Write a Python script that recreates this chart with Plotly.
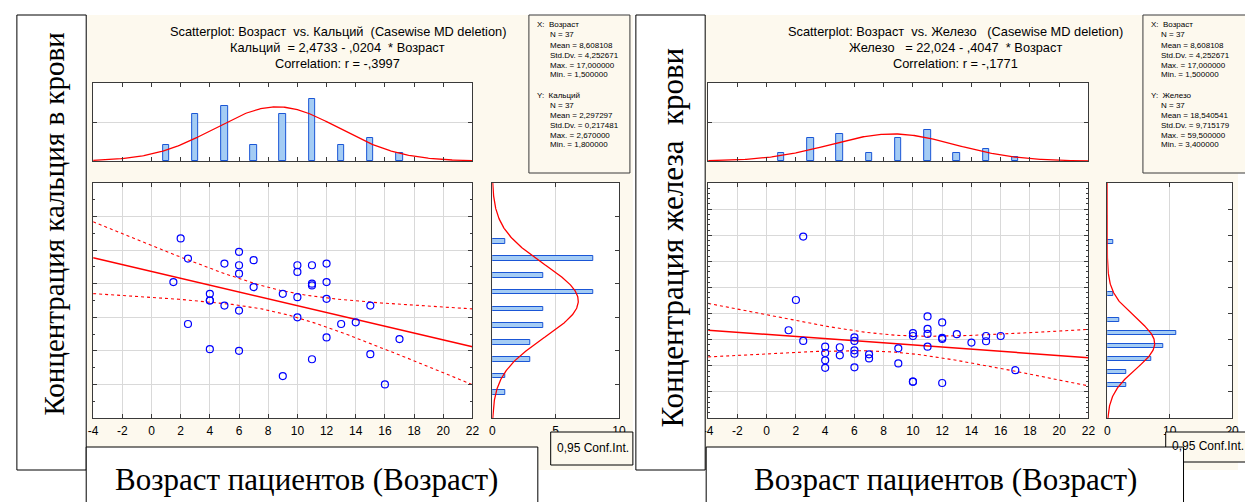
import numpy as np
import plotly.graph_objects as go

W, H = 1245, 502

# ------------------------------------------------------------------ data
# Panel 1: Возраст vs Кальций
age_ca = [2, 2.5, 1.5, 2.5, 4, 4, 4, 4, 5, 5, 6, 6, 6, 6, 6, 7, 7, 9, 9,
          10, 10, 10, 10, 11, 11, 11, 11, 12, 12, 12, 12, 13, 14, 15, 15, 16, 17]
calcium = [2.67, 2.55, 2.41, 2.16, 2.34, 2.30, 2.30, 2.01, 2.52, 2.27, 2.59, 2.51,
           2.46, 2.24, 2.00, 2.54, 2.38, 2.34, 1.85, 2.51, 2.47, 2.32, 2.20, 2.51,
           2.40, 2.39, 1.95, 2.52, 2.41, 2.31, 2.08, 2.16, 2.17, 2.27, 1.98, 1.80, 2.07]

# Panel 2: Возраст vs Железо
age_fe = [2.5, 2, 1.5, 2.5, 4, 4, 4, 4, 5, 5, 6, 6, 6, 6, 6, 7, 7, 9, 9,
          10, 10, 10, 10, 11, 11, 11, 11, 12, 12, 12, 12, 13, 14, 15, 15, 16, 17]
iron = [59.5, 35.2, 23.6, 19.5, 17.3, 14.9, 12.1, 9.2, 17.1, 14.0, 20.9, 19.5,
        15.9, 14.6, 9.4, 14.4, 12.8, 16.7, 10.9, 22.5, 21.4, 3.9, 3.9, 28.9,
        24.1, 22.2, 17.3, 26.6, 20.7, 20.3, 3.4, 22.1, 18.9, 21.4, 19.4, 21.4, 8.3]

# histograms
age_bin_centers = [1, 3, 5, 7, 9, 11, 13, 15, 17]
age_bin_counts = [2, 6, 7, 2, 6, 8, 2, 3, 1]
ca_bin_centers = [2.65, 2.55, 2.45, 2.35, 2.25, 2.15, 2.05, 1.95, 1.85, 1.75]
ca_bin_counts = [1, 8, 4, 8, 4, 4, 3, 3, 1, 1]
fe_bin_centers = [57.5, 37.5, 27.5, 22.5, 17.5, 12.5, 7.5, 2.5]
fe_bin_counts = [1, 1, 2, 11, 9, 7, 3, 3]

# descriptive statistics and regressions
age_n, age_mean, age_sd = 37, 8.608108, 4.252671
ca_mean, ca_sd = 2.297297, 0.217481
fe_mean, fe_sd = 18.540541, 9.715179
ca_b0, ca_b1, ca_r = 2.4733, -0.0204, -0.3997
fe_b0, fe_b1, fe_r = 22.024, -0.4047, -0.1771
t_crit = 2.0301  # t(0.975, 35)

x_tick_vals = [-4, -2, 0, 2, 4, 6, 8, 10, 12, 14, 16, 18, 20, 22]
x_tick_labels = ["-4", "-2", "0", "2", "4", "6", "8", "10", "12", "14", "16", "18", "20", "22"]

stats_ca = ["X:  Возраст", "N = 37", "Mean = 8,608108", "Std.Dv. = 4,252671",
            "Max. = 17,000000", "Min. = 1,500000",
            "Y:  Кальций", "N = 37", "Mean = 2,297297", "Std.Dv. = 0,217481",
            "Max. = 2,670000", "Min. = 1,800000"]
stats_fe = ["X:  Возраст", "N = 37", "Mean = 8,608108", "Std.Dv. = 4,252671",
            "Max. = 17,000000", "Min. = 1,500000",
            "Y:  Железо", "N = 37", "Mean = 18,540541", "Std.Dv. = 9,715179",
            "Max. = 59,500000", "Min. = 3,400000"]

titles_ca = ["Scatterplot: Возраст\u00a0 vs. Кальций\u00a0 (Casewise MD deletion)",
             "Кальций\u00a0 = 2,4733 - ,0204\u00a0 * Возраст",
             "Correlation: r = -,3997"]
titles_fe = ["Scatterplot: Возраст\u00a0 vs. Железо\u00a0\u00a0 (Casewise MD deletion)",
             "Железо\u00a0\u00a0 = 22,024 - ,4047\u00a0 * Возраст",
             "Correlation: r = -,1771"]

ylabel_ca = "Концентрация кальция в крови"
ylabel_fe = "Концентрация железа\u00a0 крови"
xlabel = "Возраст пациентов (Возраст)"
conf_label = "0,95 Conf.Int."

# ------------------------------------------------------------------ style
CREAM = "#FDF9EE"
FRAME = "#3A3A3A"
GRID = "#D9D9D9"
BLUE = "#0000FF"
RED = "#FF0000"
BAR_FILL = "#A4CCF4"
BAR_LINE = "#1A56D6"
SANS = "Liberation Sans, Arial, sans-serif"
SERIF = "Liberation Serif, Times New Roman, serif"


def px(x):
    return x / W


def py(y):
    return 1 - y / H


def normal_counts(t, n, bw, m, s):
    return n * bw / (s * np.sqrt(2 * np.pi)) * np.exp(-0.5 * ((t - m) / s) ** 2)


def conf_band(x, b0, b1, r, sy):
    s = sy * np.sqrt((1 - r ** 2) * (age_n - 1) / (age_n - 2))
    sxx = (age_n - 1) * age_sd ** 2
    se = s * np.sqrt(1 / age_n + (x - age_mean) ** 2 / sxx)
    yhat = b0 + b1 * x
    return yhat - t_crit * se, yhat, yhat + t_crit * se


fig = go.Figure()
shapes = []
annotations = []

panels = [
    dict(k=1, xs=age_ca, ys=calcium, b0=ca_b0, b1=ca_b1, r=ca_r, ym=ca_mean, ysd=ca_sd,
         ybins=ca_bin_centers, ycounts=ca_bin_counts, ybw=0.1, bar_h=0.028,
         yrange=[1.6, 3.0], ydtick=0.2, yminor=0.1,
         top_max=10, top_dtick=5, side_max=10,
         side_vals=[0, 5, 10], side_text=["0", "5", "10"],
         main_x=(89, 472), side_x=(492, 620),
         cream=(83, 634), stats_box=(529, 631), stats_x=(535, 548), stats=stats_ca,
         titles=titles_ca, title_cx=336,
         conf_box=(551, 634, 432, 465), conf_x=555, conf_y=448,
         lbox=(12, 82), ylabel=ylabel_ca, ylabel_pos=(49, 224), ylabel_size=29,
         bbox=(82, 538), xlabel_cx=304),
    dict(k=4, xs=age_fe, ys=iron, b0=fe_b0, b1=fe_b1, r=fe_r, ym=fe_mean, ysd=fe_sd,
         ybins=fe_bin_centers, ycounts=fe_bin_counts, ybw=5, bar_h=1.5,
         yrange=[-10, 80], ydtick=10, yminor=2,
         top_max=20, top_dtick=10, side_max=20,
         side_vals=[0, 10, 20], side_text=["0", "10", "20"],
         main_x=(710, 1094), side_x=(1113, 1239),
         cream=(707, 1245), stats_box=(1149, 1262), stats_x=(1155, 1165), stats=stats_fe,
         titles=titles_fe, title_cx=960,
         conf_box=(1172, 1262, 432, 462), conf_x=1176, conf_y=446,
         lbox=(637, 707), ylabel=ylabel_fe, ylabel_pos=(673, 238), ylabel_size=31,
         bbox=(708, 1190), xlabel_cx=950),
]

TOP_Y = (83, 161)
MAIN_Y = (183, 418)

frame = dict(showline=True, linecolor=FRAME, linewidth=1, mirror="allticks",
             ticks="inside", ticklen=4, tickcolor=FRAME, zeroline=False)

layout_axes = {}

for P in panels:
    k = P["k"]
    a_top, a_main, a_side = k, k + 1, k + 2

    def ref(n):
        return "" if n == 1 else str(n)

    xt, yt = "x" + ref(a_top), "y" + ref(a_top)
    xm, ym = "x" + ref(a_main), "y" + ref(a_main)
    xs_, ys_ = "x" + ref(a_side), "y" + ref(a_side)

    # ---- background panels
    shapes.append(dict(type="rect", xref="paper", yref="paper", layer="below",
                       x0=px(P["cream"][0]), x1=px(P["cream"][1]), y0=py(470), y1=py(15),
                       fillcolor=CREAM, line=dict(width=0)))
    for (xa, xb), (ya, yb) in [(P["main_x"], TOP_Y), (P["main_x"], MAIN_Y), (P["side_x"], MAIN_Y)]:
        shapes.append(dict(type="rect", xref="paper", yref="paper", layer="below",
                           x0=px(xa), x1=px(xb), y0=py(yb), y1=py(ya),
                           fillcolor="white", line=dict(width=0)))

    # ---- top histogram (Возраст)
    fig.add_trace(go.Bar(x=age_bin_centers, y=age_bin_counts, width=0.45,
                         marker=dict(color=BAR_FILL, line=dict(color=BAR_LINE, width=1)),
                         xaxis=xt, yaxis=yt, hoverinfo="skip"))
    tt = np.linspace(-4, 22, 300)
    fig.add_trace(go.Scatter(x=tt, y=normal_counts(tt, age_n, 2, age_mean, age_sd),
                             mode="lines", line=dict(color=RED, width=1.3),
                             xaxis=xt, yaxis=yt, hoverinfo="skip"))

    # ---- scatter with regression and confidence band
    xx = np.linspace(-4, 22, 200)
    lo, mid, hi = conf_band(xx, P["b0"], P["b1"], P["r"], P["ysd"])
    for band in (hi, lo):
        fig.add_trace(go.Scatter(x=xx, y=band, mode="lines",
                                 line=dict(color=RED, width=1.1, dash="dot"),
                                 xaxis=xm, yaxis=ym, hoverinfo="skip"))
    fig.add_trace(go.Scatter(x=xx, y=mid, mode="lines", line=dict(color=RED, width=1.5),
                             xaxis=xm, yaxis=ym, hoverinfo="skip"))
    fig.add_trace(go.Scatter(x=P["xs"], y=P["ys"], mode="markers",
                             marker=dict(symbol="circle-open", size=7, color=BLUE,
                                         line=dict(width=1.2, color=BLUE)),
                             xaxis=xm, yaxis=ym))

    # ---- side histogram (Y variable)
    fig.add_trace(go.Bar(x=P["ycounts"], y=P["ybins"], orientation="h", width=P["bar_h"],
                         marker=dict(color=BAR_FILL, line=dict(color=BAR_LINE, width=1)),
                         xaxis=xs_, yaxis=ys_, hoverinfo="skip"))
    yy = np.linspace(P["yrange"][0], P["yrange"][1], 300)
    fig.add_trace(go.Scatter(x=normal_counts(yy, age_n, P["ybw"], P["ym"], P["ysd"]), y=yy,
                             mode="lines", line=dict(color=RED, width=1.3),
                             xaxis=xs_, yaxis=ys_, hoverinfo="skip"))

    # ---- axes
    layout_axes["xaxis" + ref(a_top)] = dict(
        domain=[px(P["main_x"][0]), px(P["main_x"][1])], anchor=yt, range=[-4, 22],
        tick0=-4, dtick=2, showticklabels=False, showgrid=False, **frame)
    layout_axes["yaxis" + ref(a_top)] = dict(
        domain=[py(TOP_Y[1]), py(TOP_Y[0])], anchor=xt, range=[0, P["top_max"]],
        tick0=0, dtick=P["top_dtick"], showticklabels=False, showgrid=True,
        gridcolor=GRID, **frame)
    layout_axes["xaxis" + ref(a_main)] = dict(
        domain=[px(P["main_x"][0]), px(P["main_x"][1])], anchor=ym, range=[-4, 22],
        tickvals=x_tick_vals, ticktext=x_tick_labels, showgrid=True, gridcolor=GRID,
        tickfont=dict(family=SANS, size=12, color="black"), ticklabelstandoff=2, **frame)
    layout_axes["yaxis" + ref(a_main)] = dict(
        domain=[py(MAIN_Y[1]), py(MAIN_Y[0])], anchor=xm, range=P["yrange"],
        tick0=P["yrange"][0], dtick=P["ydtick"], showticklabels=False, showgrid=True,
        gridcolor=GRID,
        minor=dict(ticks="inside", ticklen=2, dtick=P["yminor"], tickcolor=FRAME, showgrid=False),
        **frame)
    layout_axes["xaxis" + ref(a_side)] = dict(
        domain=[px(P["side_x"][0]), px(P["side_x"][1])], anchor=ys_, range=[0, P["side_max"]],
        tickvals=P["side_vals"], ticktext=P["side_text"], showgrid=True, gridcolor=GRID,
        tickfont=dict(family=SANS, size=12, color="black"), ticklabelstandoff=2, **frame)
    layout_axes["yaxis" + ref(a_side)] = dict(
        domain=[py(MAIN_Y[1]), py(MAIN_Y[0])], anchor=xs_, range=P["yrange"], side="right",
        tick0=P["yrange"][0], dtick=P["ydtick"], showticklabels=False, showgrid=False,
        showline=True, linecolor=FRAME, linewidth=1, mirror=True,
        ticks="inside", ticklen=4, tickcolor=FRAME, zeroline=False)

    # ---- titles
    for i, line in enumerate(P["titles"]):
        annotations.append(dict(text=line, xref="paper", yref="paper",
                                x=px(P["title_cx"]), y=py(32 + 15.5 * i),
                                xanchor="center", yanchor="middle", showarrow=False,
                                font=dict(family=SANS, size=12.8, color="black")))

    # ---- stats box
    shapes.append(dict(type="rect", xref="paper", yref="paper", layer="above",
                       x0=px(P["stats_box"][0]), x1=px(P["stats_box"][1]),
                       y0=py(173), y1=py(15), fillcolor=CREAM,
                       line=dict(color=FRAME, width=1)))
    stat_y = [25, 35, 45, 55, 65, 75, 95, 105, 115, 125, 135, 145]
    for i, line in enumerate(P["stats"]):
        head = line.startswith("X:") or line.startswith("Y:")
        annotations.append(dict(text=line, xref="paper", yref="paper",
                                x=px(P["stats_x"][0] if head else P["stats_x"][1]),
                                y=py(stat_y[i]), xanchor="left", yanchor="middle",
                                showarrow=False,
                                font=dict(family=SANS, size=8, color="black")))

    # ---- conf int box
    cb = P["conf_box"]
    shapes.append(dict(type="rect", xref="paper", yref="paper", layer="above",
                       x0=px(cb[0]), x1=px(cb[1]), y0=py(cb[3]), y1=py(cb[2]),
                       fillcolor=CREAM, line=dict(color="black", width=1)))
    annotations.append(dict(text=conf_label, xref="paper", yref="paper",
                            x=px(P["conf_x"]), y=py(P["conf_y"]), xanchor="left",
                            yanchor="middle", showarrow=False,
                            font=dict(family=SANS, size=12, color="black")))

    # ---- big label boxes
    shapes.append(dict(type="rect", xref="paper", yref="paper", layer="above",
                       x0=px(P["lbox"][0]), x1=px(P["lbox"][1]), y0=py(470), y1=py(15),
                       fillcolor="white", line=dict(color="black", width=1)))
    shapes.append(dict(type="rect", xref="paper", yref="paper", layer="above",
                       x0=px(P["bbox"][0]), x1=px(P["bbox"][1]), y0=py(520), y1=py(447),
                       fillcolor="white", line=dict(color="black", width=1)))
    annotations.append(dict(text=P["ylabel"], xref="paper", yref="paper",
                            x=px(P["ylabel_pos"][0]), y=py(P["ylabel_pos"][1]),
                            xanchor="center", yanchor="middle", textangle=-90,
                            showarrow=False,
                            font=dict(family=SERIF, size=P["ylabel_size"], color="black")))
    annotations.append(dict(text=xlabel, xref="paper", yref="paper",
                            x=px(P["xlabel_cx"]), y=py(479), xanchor="center",
                            yanchor="middle", showarrow=False,
                            font=dict(family=SERIF, size=31, color="black")))

fig.update_layout(
    width=W, height=H, margin=dict(l=0, r=0, t=0, b=0, pad=0),
    paper_bgcolor="white", plot_bgcolor="rgba(0,0,0,0)",
    showlegend=False, bargap=0, shapes=shapes, annotations=annotations,
    **layout_axes)

fig.write_html("out.html", config={"displayModeBar": False},
               post_script="document.body.style.margin='0';document.body.style.overflow='hidden';")
